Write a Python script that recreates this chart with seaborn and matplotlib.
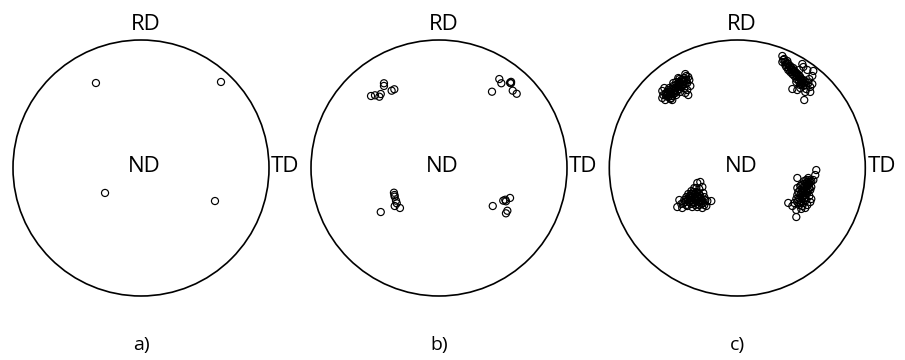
import matplotlib
matplotlib.use("Agg")
import matplotlib.pyplot as plt
import seaborn as sns
import pandas as pd
from matplotlib.patches import Circle

# ---- data: pole positions (projected, unit circle) ----
a_x = [-0.352, 0.625, -0.281, 0.578]
a_y = [0.664, 0.672, -0.195, -0.258]

b_x = [-0.430, -0.430, -0.370, -0.349, -0.531, -0.500, -0.466, -0.455,
       0.471, 0.487, 0.555, 0.5625, 0.414, 0.576, 0.607, 0.563,
       -0.352, -0.348, -0.346, -0.336, -0.330, -0.346, -0.305, -0.455,
       0.420, 0.502, 0.523, 0.518, 0.555, 0.534, 0.523]
b_y = [0.662, 0.641, 0.604, 0.615, 0.5625, 0.568, 0.557, 0.578,
       0.695, 0.662, 0.666, 0.662, 0.596, 0.604, 0.580, 0.673,
       -0.193, -0.211, -0.224, -0.255, -0.276, -0.297, -0.3125, -0.344,
       -0.297, -0.255, -0.260, -0.248, -0.234, -0.334, -0.354]

c_ul_x = [-0.586, -0.578, -0.586, -0.5625, -0.539, -0.523, -0.547, -0.508, -0.492, -0.516,
          -0.484, -0.469, -0.500, -0.461, -0.445, -0.477, -0.4375, -0.422, -0.414, -0.398,
          -0.383, -0.406, -0.453, -0.430, -0.391, -0.367, -0.391, -0.383, -0.414, -0.445,
          -0.477, -0.523, -0.555, -0.531, -0.500, -0.461, -0.375, -0.570, -0.406, -0.508,
          -0.555, -0.539, -0.523, -0.508, -0.492, -0.477, -0.461, -0.445, -0.430, -0.414,
          -0.398, -0.547, -0.531, -0.516, -0.500, -0.484, -0.469, -0.453, -0.4375, -0.422,
          -0.406, -0.484, -0.453, -0.516, -0.5625]
c_ul_y = [0.602, 0.570, 0.547, 0.531, 0.555, 0.578, 0.594, 0.5625, 0.586, 0.617,
          0.609, 0.633, 0.641, 0.656, 0.641, 0.672, 0.6875, 0.672, 0.703, 0.719,
          0.711, 0.734, 0.695, 0.648, 0.664, 0.641, 0.609, 0.570, 0.625, 0.594,
          0.570, 0.539, 0.5625, 0.625, 0.664, 0.703, 0.6875, 0.625, 0.586, 0.531,
          0.586, 0.609, 0.594, 0.609, 0.625, 0.625, 0.641, 0.664, 0.6875, 0.680,
          0.6875, 0.570, 0.5625, 0.578, 0.602, 0.586, 0.602, 0.617, 0.633, 0.648,
          0.656, 0.648, 0.672, 0.547, 0.578]

c_ur_x = [0.352, 0.367, 0.352, 0.391, 0.406, 0.422, 0.383, 0.4375, 0.453, 0.414,
          0.469, 0.484, 0.445, 0.492, 0.508, 0.477, 0.523, 0.539, 0.516, 0.500,
          0.461, 0.516, 0.508, 0.547, 0.594, 0.586, 0.5625, 0.555, 0.586, 0.570,
          0.539, 0.531, 0.570, 0.469, 0.430, 0.492, 0.523, 0.398, 0.430, 0.484,
          0.359, 0.375, 0.383, 0.398, 0.414, 0.406, 0.422, 0.4375, 0.445, 0.461,
          0.453, 0.469, 0.477, 0.492, 0.500, 0.484, 0.508, 0.516, 0.531, 0.523,
          0.430, 0.391, 0.375, 0.461, 0.492]
c_ur_y = [0.875, 0.852, 0.828, 0.820, 0.797, 0.781, 0.789, 0.766, 0.750, 0.750,
          0.734, 0.719, 0.719, 0.695, 0.680, 0.6875, 0.664, 0.648, 0.641, 0.656,
          0.695, 0.789, 0.8125, 0.766, 0.758, 0.719, 0.695, 0.664, 0.656, 0.633,
          0.617, 0.594, 0.594, 0.609, 0.617, 0.625, 0.531, 0.766, 0.734, 0.766,
          0.844, 0.828, 0.8125, 0.8125, 0.797, 0.773, 0.766, 0.781, 0.758, 0.742,
          0.727, 0.711, 0.727, 0.711, 0.6875, 0.672, 0.664, 0.6875, 0.680, 0.648,
          0.750, 0.836, 0.805, 0.672, 0.648]

c_ll_x = [-0.3125, -0.289, -0.273, -0.297, -0.336, -0.359, -0.320, -0.383, -0.344, -0.297,
          -0.266, -0.398, -0.367, -0.328, -0.289, -0.258, -0.414, -0.375, -0.336, -0.297,
          -0.266, -0.234, -0.203, -0.453, -0.469, -0.430, -0.4375, -0.398, -0.352, -0.3125,
          -0.273, -0.242, -0.367, -0.3125, -0.352, -0.281,
          -0.391, -0.375, -0.359, -0.344, -0.328, -0.3125, -0.305, -0.320, -0.352, -0.383,
          -0.406, -0.391, -0.359, -0.328, -0.297, -0.281, -0.258, -0.273, -0.250, -0.305,
          -0.336, -0.367, -0.422, -0.289, -0.320]
c_ll_y = [-0.117, -0.109, -0.148, -0.164, -0.156, -0.180, -0.1875, -0.203, -0.211, -0.203,
          -0.195, -0.227, -0.234, -0.242, -0.234, -0.227, -0.250, -0.266, -0.273, -0.266,
          -0.273, -0.258, -0.258, -0.250, -0.305, -0.3125, -0.281, -0.289, -0.305, -0.305,
          -0.3125, -0.297, -0.219, -0.219, -0.250, -0.250,
          -0.242, -0.219, -0.203, -0.1875, -0.203, -0.195, -0.227, -0.258, -0.266, -0.250,
          -0.266, -0.297, -0.281, -0.289, -0.289, -0.281, -0.289, -0.258, -0.250, -0.242,
          -0.227, -0.250, -0.273, -0.219, -0.156]

c_lr_x = [0.617, 0.609, 0.594, 0.570, 0.555, 0.539, 0.469, 0.516, 0.547, 0.578,
          0.492, 0.469, 0.523, 0.555, 0.500, 0.469, 0.531, 0.5625, 0.508, 0.477,
          0.539, 0.578, 0.516, 0.484, 0.445, 0.398, 0.430, 0.461, 0.461, 0.500,
          0.531, 0.547, 0.570, 0.492, 0.523, 0.5625,
          0.578, 0.5625, 0.555, 0.539, 0.531, 0.516, 0.539, 0.508, 0.523, 0.492,
          0.516, 0.484, 0.500, 0.469, 0.492, 0.531, 0.547, 0.570, 0.477, 0.500,
          0.523, 0.547, 0.461, 0.508, 0.5625]
c_lr_y = [-0.016, -0.055, -0.094, -0.109, -0.078, -0.094, -0.078, -0.125, -0.141, -0.148,
          -0.141, -0.156, -0.172, -0.180, -0.195, -0.211, -0.211, -0.219, -0.234, -0.250,
          -0.250, -0.242, -0.273, -0.289, -0.273, -0.273, -0.297, -0.328, -0.383, -0.320,
          -0.3125, -0.289, -0.266, -0.172, -0.141, -0.125,
          -0.102, -0.094, -0.117, -0.125, -0.148, -0.156, -0.164, -0.180, -0.195, -0.211,
          -0.219, -0.234, -0.258, -0.266, -0.273, -0.234, -0.195, -0.172, -0.1875, -0.133,
          -0.102, -0.109, -0.242, -0.297, -0.156]

c_x = c_ul_x + c_ur_x + c_ll_x + c_lr_x
c_y = c_ul_y + c_ur_y + c_ll_y + c_lr_y

panel_labels = ["a)", "b)", "c)"]
axis_labels = ["RD", "ND", "TD"]

# ---- figure ----
sns.set_theme(style="white")
plt.rcParams["font.family"] = ["Open Sans", "DejaVu Sans"]
plt.rcParams["text.color"] = "black"

W, H = 905, 360
fig = plt.figure(figsize=(W / 100, H / 100), dpi=100)
fig.patch.set_facecolor("white")

R_PX = 128.0
LIM = 1.1
centers = [141.0, 439.0, 737.3]
cy = 168.0
size = 2 * LIM * R_PX

datasets = [(a_x, a_y), (b_x, b_y), (c_x, c_y)]

for cx, (xs, ys), plab in zip(centers, datasets, panel_labels):
    ax = fig.add_axes([(cx - size / 2) / W, (H - cy - size / 2) / H, size / W, size / H])
    ax.set_xlim(-LIM, LIM)
    ax.set_ylim(-LIM, LIM)
    ax.set_aspect("equal")
    ax.axis("off")
    ax.add_patch(Circle((0, 0), 1.0, fill=False, ec="black", lw=1.2))
    df = pd.DataFrame({"x": xs, "y": ys})
    sns.scatterplot(data=df, x="x", y="y", ax=ax, marker="o", s=26,
                    color="black", facecolor="none", edgecolor="black",
                    linewidth=0.85, legend=False, clip_on=False, zorder=3)
    fs = 16
    ax.text(0.037, 1.078, axis_labels[0], ha="center", va="baseline", fontsize=fs,
            color="black", clip_on=False)
    ax.text(0.027, -0.029, axis_labels[1], ha="center", va="baseline", fontsize=fs,
            color="black", clip_on=False)
    ax.text(1.016, -0.029, axis_labels[2], ha="left", va="baseline", fontsize=fs,
            color="black", clip_on=False)
    ax.text(0.0, -1.42, plab, ha="center", va="baseline", fontsize=14,
            color="black", clip_on=False)

fig.savefig("out.png", dpi=100, facecolor="white")
